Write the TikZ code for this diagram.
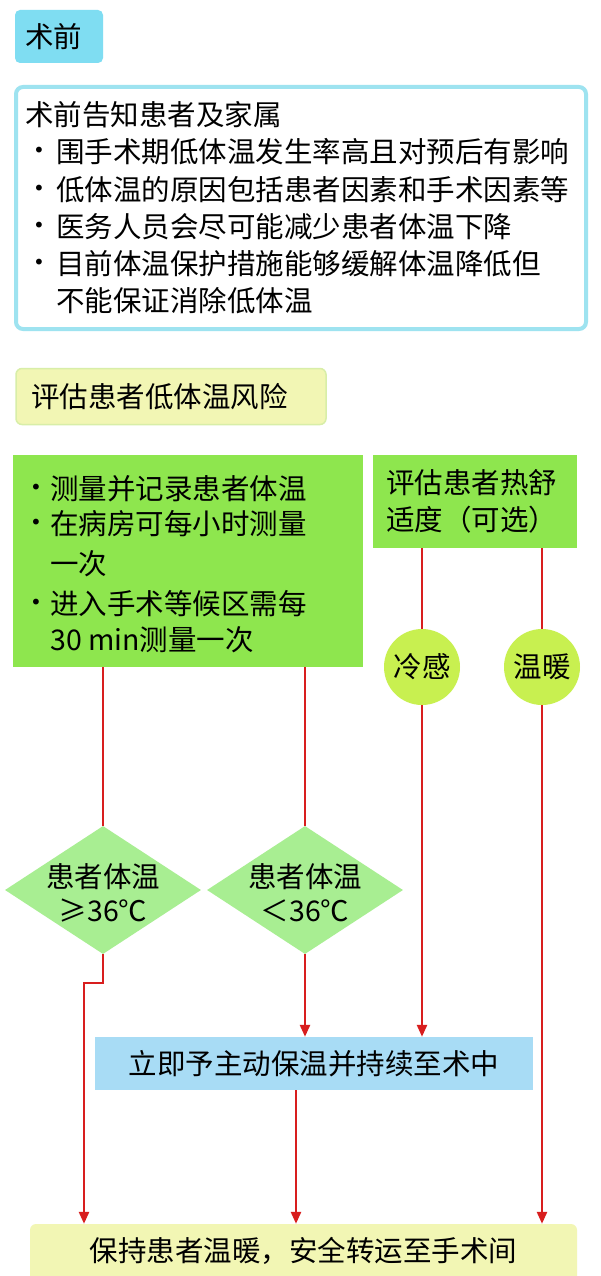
\documentclass[tikz,border=0pt]{standalone}
\usepackage{fontspec}
\setmainfont{Noto Sans CJK SC}
\newfontfamily\bulfont{DejaVu Sans}
\usetikzlibrary{arrows.meta,shapes.geometric}
\definecolor{cyanf}{HTML}{7FDDF2}
\definecolor{cyanb}{HTML}{9EE3F0}
\definecolor{yel}{HTML}{F2F6B4}
\definecolor{yelb}{HTML}{D8EEA8}
\definecolor{grn}{HTML}{8EE64E}
\definecolor{dia}{HTML}{A8EE92}
\definecolor{circ}{HTML}{C8F050}
\definecolor{blu}{HTML}{A8DCF5}
\definecolor{redl}{HTML}{D81E1E}
\begin{document}
\begin{tikzpicture}[x=1pt,y=-1pt,
  fnt/.style={font=\fontsize{28.5}{34}\selectfont},
  txt/.style={fnt, inner sep=0pt, anchor=west},
  bul/.style={font=\bulfont\fontsize{20}{24}\selectfont, inner sep=0pt, anchor=center},
  arr/.style={draw=redl, line width=2.5pt, -{Triangle[length=12pt,width=10pt]}},
  ln/.style={draw=redl, line width=2.5pt}]
\useasboundingbox[fill=white] (0,0) rectangle (600,1276);
% top
\node[fill=cyanf, rounded corners=5pt, minimum width=88pt, minimum height=53pt] (pre) at (59,36.5) {};
\node[txt] (pret) at (25,37) {术前};
\node[draw=cyanb, line width=4pt, fill=white, rounded corners=7pt, minimum width=570pt, minimum height=242pt] (info) at (301,208) {};
\node[txt] (l0) at (25,115) {术前告知患者及家属};
\foreach \y/\t [count=\i] in {152/围手术期低体温发生率高且对预后有影响,190/低体温的原因包括患者因素和手术因素等,227/医务人员会尽可能减少患者体温下降,264/目前体温保护措施能够缓解体温降低但}{
  \node[bul] (b\i) at (39,\y) {•};
  \node[txt] (l\i) at (56,\y) {\t};}
\node[txt] (l5) at (56,301) {不能保证消除低体温};
% assess
\node[draw=yelb, line width=1.5pt, fill=yel, rounded corners=6pt, minimum width=310pt, minimum height=56pt] (ass) at (171,396.5) {};
\node[txt] (asst) at (31,397) {评估患者低体温风险};
% green boxes
\node[fill=grn, minimum width=350pt, minimum height=212pt] (meas) at (188,561) {};
\node[bul] (m1b) at (36,489) {•}; \node[txt] (m1) at (50,489) {测量并记录患者体温};
\node[bul] (m2b) at (36,524) {•}; \node[txt] (m2) at (50,524) {在病房可每小时测量};
\node[txt] (m3) at (50,564) {一次};
\node[bul] (m4b) at (36,604) {•}; \node[txt] (m4) at (50,604) {进入手术等候区需每};
\node[txt] (m5) at (50,640) {30 min测量一次};
\node[fill=grn, minimum width=204pt, minimum height=93pt] (comf) at (475,501.5) {};
\node[txt] (c1) at (386,483) {评估患者热舒};
\node[txt] (c2) at (386,520) {适度（可选）};
% circles
\node[circle, fill=circ, minimum size=76pt, inner sep=0pt, fnt] (cold) at (422,667) {冷感};
\node[circle, fill=circ, minimum size=76pt, inner sep=0pt, fnt] (warm) at (542,667) {温暖};
% diamonds
\node[diamond, fill=dia, minimum width=196pt, minimum height=128pt, inner sep=0pt] (d1) at (103,890) {};
\node[diamond, fill=dia, minimum width=196pt, minimum height=128pt, inner sep=0pt] (d2) at (305,890) {};
\node[fnt, align=center] (d1t) at (103,893) {患者体温\\≥36℃};
\node[fnt, align=center] (d2t) at (305,893) {患者体温\\＜36℃};
% blue & final
\node[fill=blu, minimum width=438pt, minimum height=53pt, fnt] (act) at (314,1063.5) {立即予主动保温并持续至术中};
\node[fill=yel, rounded corners=6pt, minimum width=547pt, minimum height=62pt] (fin) at (303.5,1255) {};
\node[fnt] (fint) at (303.5,1251) {保持患者温暖，安全转运至手术间};
% connectors
\coordinate (m1s) at (103,667); \coordinate (m2s) at (305,667);
\draw[ln] (m1s) -- (d1.north);
\draw[ln] (m2s) -- (d2.north);
\draw[ln] (comf.south -| cold) -- (cold.north);
\draw[ln] (comf.south -| warm) -- (warm.north);
\draw[arr] (cold.south) -- (cold |- act.north);
\draw[arr] (d2.south) -- (d2 |- act.north);
\coordinate (k1) at (103,983); \coordinate (k2) at (84,983);
\draw[arr] (d1.south) -- (k1) -- (k2) -- (k2 |- fin.north);
\coordinate (a2) at (296,1090);
\draw[arr] (a2) -- (a2 |- fin.north);
\draw[arr] (warm.south) -- (warm |- fin.north);
\end{tikzpicture}
\end{document}
